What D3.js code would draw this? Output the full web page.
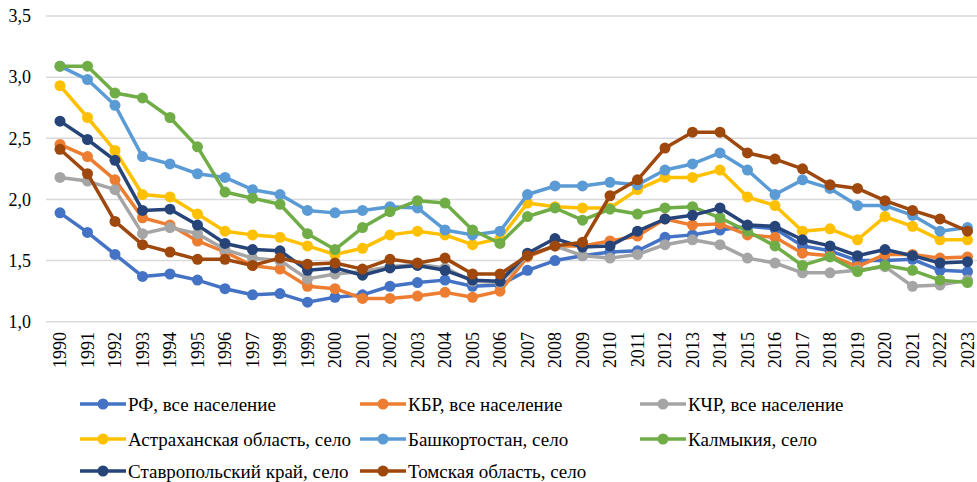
<!DOCTYPE html>
<html>
<head>
<meta charset="utf-8">
<script src="https://cdn.jsdelivr.net/npm/d3@7"></script>
<style>
  body { margin: 0; background: #fff; }
</style>
</head>
<body>
<script>
const width = 977;
const height = 482;
const font = "Liberation Serif, DejaVu Serif, Noto Serif, Tinos, FreeSerif, Times, serif";

const years = d3.range(1990, 2024).map(String);
const yTicks = [1.0, 1.5, 2.0, 2.5, 3.0, 3.5];

const names = [
  "РФ, все население",
  "КБР, все население",
  "КЧР, все население",
  "Астраханская область, село",
  "Башкортостан, село",
  "Калмыкия, село",
  "Ставропольский край, село",
  "Томская область, село"
];
const colors = ["#4472C4", "#ED7D31", "#A5A5A5", "#FFC000", "#5B9BD5", "#70AD47", "#264478", "#9E480E"];

const rf = [1.89, 1.73, 1.55, 1.37, 1.39, 1.34, 1.27, 1.22, 1.23, 1.16, 1.20, 1.22, 1.29, 1.32, 1.34, 1.29, 1.30,
  1.42, 1.50, 1.54, 1.57, 1.58, 1.69, 1.71, 1.75, 1.78, 1.76, 1.62, 1.58, 1.50, 1.50, 1.51, 1.42, 1.41];
const kbr = [2.45, 2.35, 2.16, 1.85, 1.79, 1.66, 1.57, 1.46, 1.43, 1.29, 1.27, 1.19, 1.19, 1.21, 1.24, 1.20, 1.25,
  1.53, 1.62, 1.62, 1.66, 1.70, 1.84, 1.79, 1.80, 1.71, 1.69, 1.56, 1.54, 1.45, 1.55, 1.55, 1.52, 1.53];
const kchr = [2.18, 2.15, 2.08, 1.72, 1.77, 1.72, 1.59, 1.52, 1.50, 1.35, 1.39, 1.41, 1.45, 1.47, 1.44, 1.33, 1.32,
  1.54, 1.62, 1.54, 1.52, 1.55, 1.63, 1.67, 1.63, 1.52, 1.48, 1.40, 1.40, 1.42, 1.45, 1.29, 1.30, 1.34];
const astr = [2.93, 2.67, 2.40, 2.04, 2.02, 1.88, 1.74, 1.71, 1.69, 1.62, 1.55, 1.60, 1.71, 1.74, 1.71, 1.63, 1.68,
  1.97, 1.94, 1.93, 1.93, 2.08, 2.18, 2.18, 2.24, 2.02, 1.95, 1.74, 1.76, 1.67, 1.86, 1.78, 1.67, 1.67];
const bash = [3.09, 2.98, 2.77, 2.35, 2.29, 2.21, 2.18, 2.08, 2.04, 1.91, 1.89, 1.91, 1.94, 1.93, 1.75, 1.71, 1.74,
  2.04, 2.11, 2.11, 2.14, 2.12, 2.24, 2.29, 2.38, 2.24, 2.04, 2.16, 2.09, 1.95, 1.95, 1.87, 1.74, 1.77];
const kalm = [3.09, 3.09, 2.87, 2.83, 2.67, 2.43, 2.06, 2.01, 1.96, 1.72, 1.59, 1.77, 1.90, 1.99, 1.97, 1.75, 1.64,
  1.86, 1.93, 1.83, 1.92, 1.88, 1.93, 1.94, 1.85, 1.74, 1.62, 1.46, 1.53, 1.41, 1.46, 1.42, 1.34, 1.32];
const stav = [2.64, 2.49, 2.32, 1.91, 1.92, 1.79, 1.64, 1.59, 1.58, 1.42, 1.44, 1.38, 1.44, 1.46, 1.42, 1.34, 1.33,
  1.56, 1.68, 1.61, 1.62, 1.74, 1.84, 1.87, 1.93, 1.79, 1.78, 1.67, 1.62, 1.54, 1.59, 1.54, 1.48, 1.49];
const tomsk = [2.41, 2.21, 1.82, 1.63, 1.57, 1.51, 1.51, 1.46, 1.52, 1.47, 1.48, 1.43, 1.51, 1.48, 1.52, 1.39, 1.39,
  1.54, 1.62, 1.65, 2.03, 2.16, 2.42, 2.55, 2.55, 2.38, 2.33, 2.25, 2.12, 2.09, 1.99, 1.91, 1.84, 1.74];

const seriesValues = [rf, kbr, kchr, astr, bash, kalm, stav, tomsk];

const svg = d3.select("body").append("svg")
    .attr("width", width)
    .attr("height", height)
    .style("font-family", font);

const x = d3.scalePoint()
    .domain(years)
    .range([46.25, 981.25])
    .padding(0.5);

const y = d3.scaleLinear()
    .domain([1, 3.5])
    .range([321.7, 16]);

// grid
svg.append("g")
    .selectAll("line")
    .data(yTicks)
    .join("line")
    .attr("x1", 46)
    .attr("x2", width)
    .attr("y1", d => y(d))
    .attr("y2", d => y(d))
    .attr("stroke", "#d9d9d9")
    .attr("stroke-width", 1.5);

// y labels
svg.append("g")
    .selectAll("text")
    .data(yTicks)
    .join("text")
    .attr("x", 31)
    .attr("y", d => y(d))
    .attr("dy", "0.35em")
    .attr("text-anchor", "end")
    .style("font-size", "18px")
    .text(d => d3.format(".1f")(d).replace(".", ","));

// x labels
svg.append("g")
    .selectAll("text")
    .data(years)
    .join("text")
    .attr("transform", d => `translate(${x(d)}, 332) rotate(-90)`)
    .attr("dy", "0.35em")
    .attr("text-anchor", "end")
    .style("font-size", "18px")
    .text(d => d);

const line = d3.line()
    .x((d, i) => x(years[i]))
    .y(d => y(d));

seriesValues.forEach((vals, k) => {
  const g = svg.append("g");
  g.append("path")
      .datum(vals)
      .attr("d", line)
      .attr("fill", "none")
      .attr("stroke", colors[k])
      .attr("stroke-width", 3.5)
      .attr("stroke-linejoin", "round");
  g.selectAll("circle")
      .data(vals)
      .join("circle")
      .attr("cx", (d, i) => x(years[i]))
      .attr("cy", d => y(d))
      .attr("r", 5.5)
      .attr("fill", colors[k]);
});

// legend
const legCols = [80, 360, 640];
const legRows = [404, 439, 471];
const legend = svg.append("g")
    .selectAll("g")
    .data(names)
    .join("g")
    .attr("transform", (d, i) => `translate(${legCols[i % 3]}, ${legRows[Math.floor(i / 3)]})`);

legend.append("line")
    .attr("x1", 0)
    .attr("x2", 46)
    .attr("stroke", (d, i) => colors[i])
    .attr("stroke-width", 3.5);

legend.append("circle")
    .attr("cx", 23)
    .attr("r", 5.5)
    .attr("fill", (d, i) => colors[i]);

legend.append("text")
    .attr("x", 48)
    .attr("dy", "0.35em")
    .style("font-size", "19px")
    .text(d => d);
</script>
</body>
</html>
